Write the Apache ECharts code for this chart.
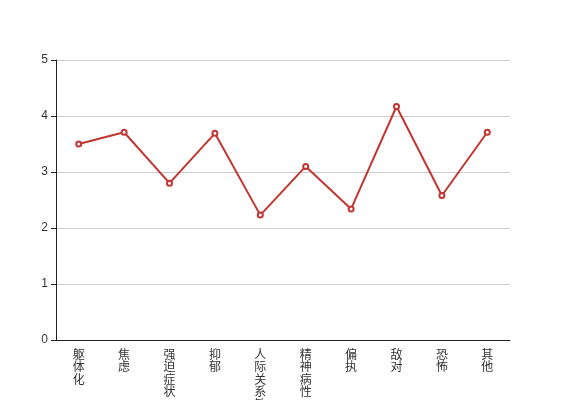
<!DOCTYPE html>
<html><head><meta charset="utf-8">
<script src="https://cdn.jsdelivr.net/npm/echarts@6/dist/echarts.min.js"></script>
<style>html,body{margin:0;padding:0;background:#fff}#c{width:567px;height:400px}</style>
</head><body><div id="c"></div>
<script>
var categories = ['躯体化','焦虑','强迫症状','抑郁','人际关系敏感','精神病性','偏执','敌对','恐怖','其他'];
var values = [3.50, 3.71, 2.80, 3.69, 2.23, 3.10, 2.34, 4.17, 2.58, 3.71];
var yTicks = [0, 1, 2, 3, 4, 5];
var chart = echarts.init(document.getElementById('c'));
chart.setOption({
  animation: false,
  grid: {left: 56, right: 57, top: 60, bottom: 60, containLabel: false, outerBoundsMode: 'none'},
  xAxis: {
    type: 'category', data: categories, boundaryGap: true,
    axisLine: {lineStyle: {color: '#222'}},
    axisTick: {lineStyle: {color: '#222'}},
    axisLabel: {color: '#333', fontSize: 12, lineHeight: 12.5, margin: 8,
      fontFamily: 'Noto Sans CJK SC', interval: 0,
      formatter: function(v){ return v.split('').join('\n'); }}
  },
  yAxis: {
    type: 'value', min: yTicks[0], max: yTicks[yTicks.length-1], interval: 1,
    axisLine: {show: true, lineStyle: {color: '#222'}},
    axisTick: {show: true, lineStyle: {color: '#222'}},
    axisLabel: {color: '#333', fontSize: 12, fontFamily: 'Liberation Sans'},
    splitLine: {lineStyle: {color: '#ccc'}}
  },
  series: [{
    type: 'line', data: values,
    symbol: 'emptyCircle', symbolSize: 5,
    lineStyle: {color: '#c23531', width: 2},
    itemStyle: {color: '#c23531', borderWidth: 1}
  }]
});
</script></body></html>
